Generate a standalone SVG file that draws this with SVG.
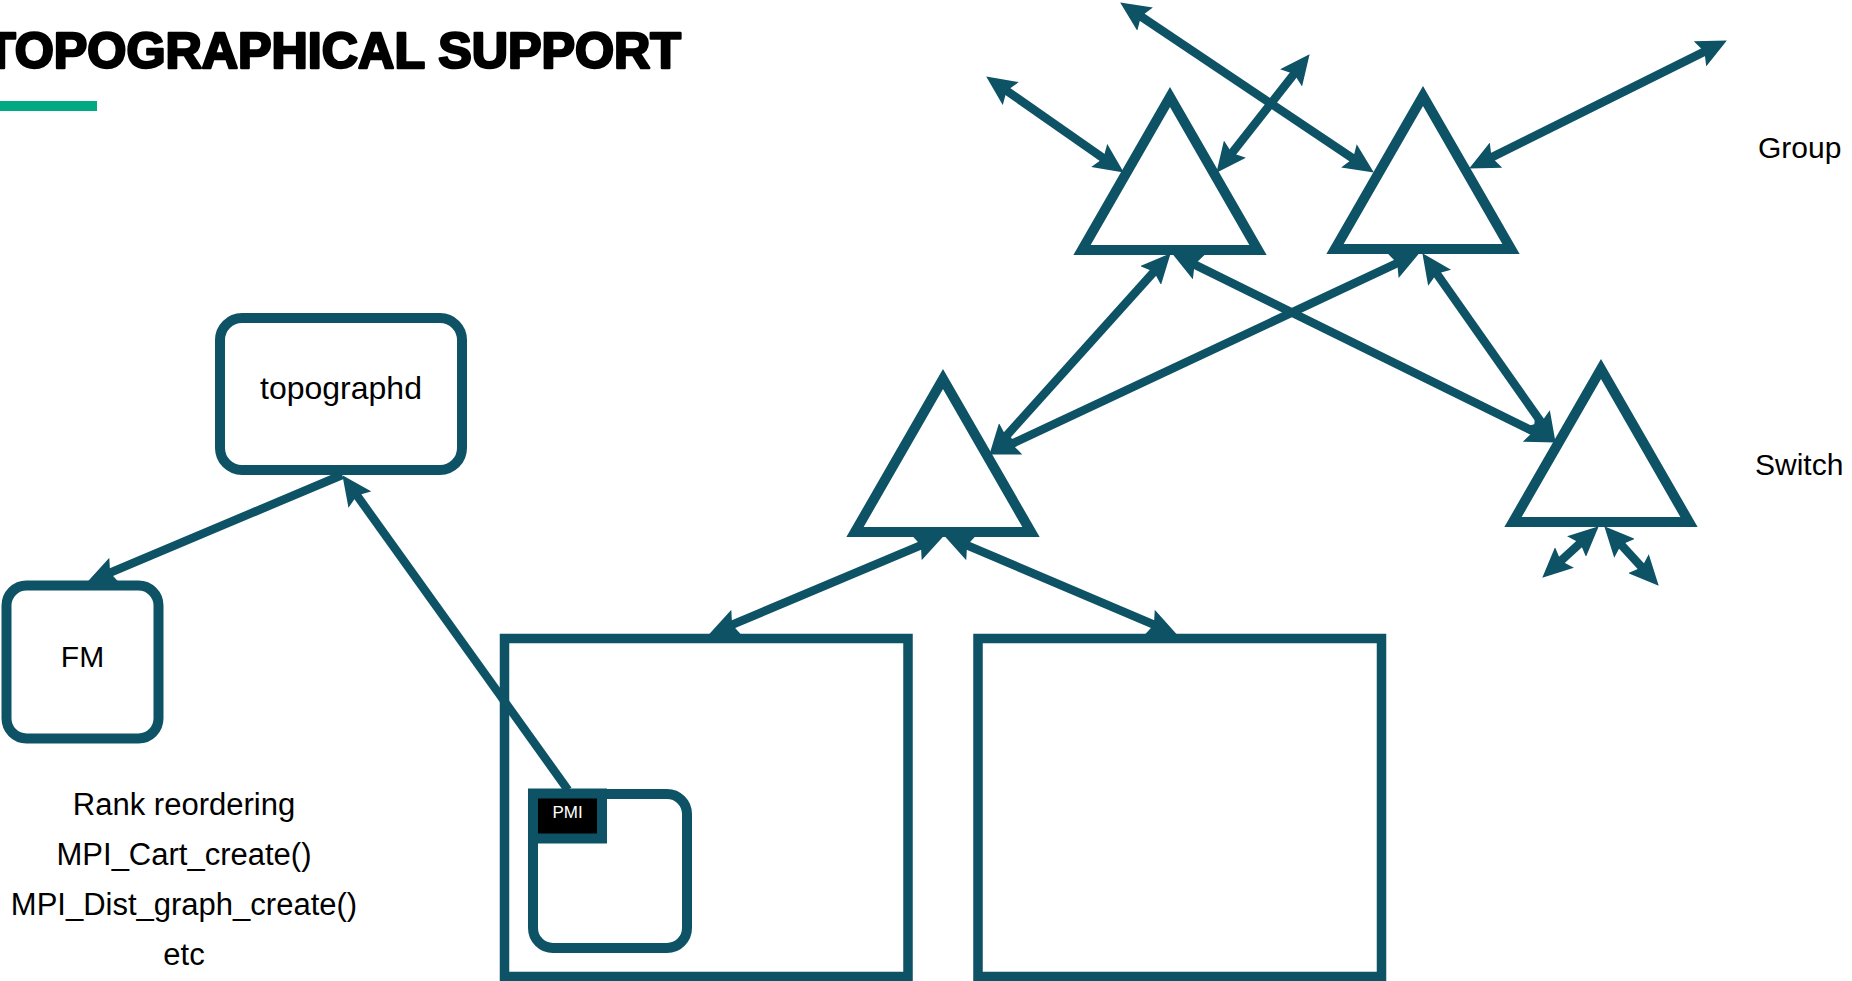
<svg xmlns="http://www.w3.org/2000/svg" width="1852" height="981" viewBox="0 0 1852 981">
<style>
.t{font-family:"Liberation Sans",Arial,sans-serif;fill:#000}
.box{fill:#fff;stroke:#0D5265;stroke-width:10}
.tri{fill:#fff;stroke:#0D5265;stroke-width:10;stroke-linejoin:miter;stroke-miterlimit:10}
.c{fill:none;stroke:#0D5265;stroke-width:8.5}
</style>
<defs>
<marker id="ah" viewBox="0 0 30 28" refX="19" refY="14" markerWidth="30" markerHeight="28" markerUnits="userSpaceOnUse" orient="auto-start-reverse">
<path d="M0,0 L30,14 L0,28 L5,14 Z" fill="#0D5265"/>
</marker>
</defs>
<rect width="1852" height="981" fill="#fff"/>
<g id="title">
<text x="-15" y="68" class="t" font-size="50" font-weight="900" stroke="#000" stroke-width="2.5" stroke-linejoin="round" textLength="696" lengthAdjust="spacingAndGlyphs">TOPOGRAPHICAL SUPPORT</text>
<rect x="0" y="101" width="97" height="10" fill="#01A982"/>
</g>
<g id="rack-left"><rect x="504.5" y="638.5" width="403.5" height="338" fill="#fff" stroke="#0D5265" stroke-width="9.5"/></g>
<g id="rack-right"><rect x="978" y="638.5" width="403.5" height="338" fill="#fff" stroke="#0D5265" stroke-width="9.5"/></g>
<g id="node-proc">
<rect x="533" y="794" width="154" height="154" rx="20" class="box"/>
</g>
<g id="pmi">
<rect x="533" y="793.5" width="69" height="45" fill="#000" stroke="#0D5265" stroke-width="10"/>
<text x="567.5" y="818" class="t" font-size="17" text-anchor="middle" style="fill:#fff">PMI</text>
</g>
<g id="topographd">
<rect x="220" y="318" width="242" height="152" rx="22" class="box"/>
<text x="341" y="399" class="t" font-size="32" text-anchor="middle">topographd</text>
</g>
<g id="fm">
<rect x="6.5" y="585.5" width="152" height="153" rx="20" class="box" stroke-width="9"/>
<text x="82.5" y="667" class="t" font-size="30" text-anchor="middle">FM</text>
</g>
<g id="notes" class="t" font-size="31" text-anchor="middle">
<text x="184" y="815">Rank reordering</text>
<text x="184" y="865">MPI_Cart_create()</text>
<text x="184" y="915">MPI_Dist_graph_create()</text>
<text x="184" y="965">etc</text>
</g>
<g id="group-1"><polygon points="1170,97 1082,250 1258,250" class="tri"/></g>
<g id="group-2"><polygon points="1423,96 1335,249 1511,249" class="tri"/></g>
<g id="switch-1"><polygon points="943,379 855,532 1031,532" class="tri"/></g>
<g id="switch-2"><polygon points="1601,369 1513,522 1689,522" class="tri"/></g>
<g id="label-group"><text x="1758" y="158" class="t" font-size="30">Group</text></g>
<g id="label-switch"><text x="1755" y="475" class="t" font-size="30">Switch</text></g>
<g id="connectors">
<path class="c" d="M342,475 L97.2,578.1" marker-end="url(#ah)"/>
<path class="c" d="M568,790 L348.8,484.1" marker-end="url(#ah)"/>
<path class="c" d="M933.8,539.9 L719.2,630.1" marker-start="url(#ah)" marker-end="url(#ah)"/>
<path class="c" d="M954.2,539.9 L1166.8,630.1" marker-start="url(#ah)" marker-end="url(#ah)"/>
<path class="c" d="M1163.3,261.4 L996.7,446.6" marker-start="url(#ah)" marker-end="url(#ah)"/>
<path class="c" d="M1409.9,257.2 L999.1,449.8" marker-start="url(#ah)" marker-end="url(#ah)"/>
<path class="c" d="M1182,258.4 L1546,437.6" marker-start="url(#ah)" marker-end="url(#ah)"/>
<path class="c" d="M1428.7,262.2 L1549.3,433.8" marker-start="url(#ah)" marker-end="url(#ah)"/>
<path class="c" d="M1590.6,533.7 L1550.4,570.3" marker-start="url(#ah)" marker-end="url(#ah)"/>
<path class="c" d="M1611.7,534.4 L1651.3,577.6" marker-start="url(#ah)" marker-end="url(#ah)"/>
<path class="c" d="M1114.8,166.3 L995.2,82.7" marker-start="url(#ah)" marker-end="url(#ah)"/>
<path class="c" d="M1223.2,164.1 L1302.8,62.9" marker-start="url(#ah)" marker-end="url(#ah)"/>
<path class="c" d="M1129.3,8.6 L1364.7,166.4" marker-start="url(#ah)" marker-end="url(#ah)"/>
<path class="c" d="M1479,163.6 L1717,45.4" marker-start="url(#ah)" marker-end="url(#ah)"/>
</g>
</svg>
